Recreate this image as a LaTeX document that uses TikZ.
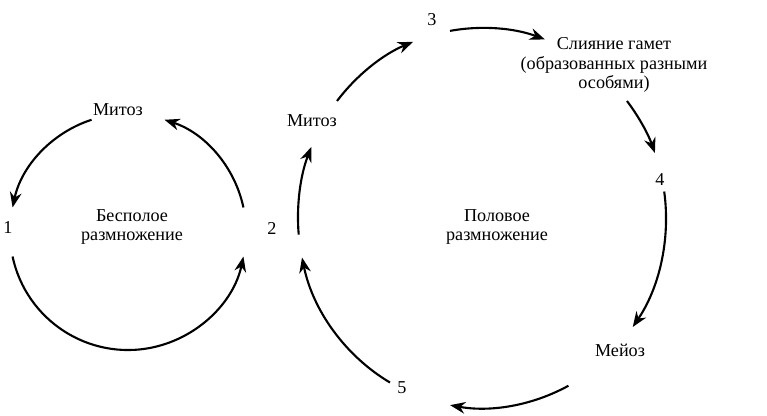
\documentclass[tikz,border=0pt]{standalone}
\usepackage{fontspec}
\setmainfont{Liberation Serif}
\usetikzlibrary{arrows.meta}
\begin{document}
\begin{tikzpicture}[x=0.03cm,y=0.03cm,
  cyc/.style={line width=1.8pt,-{Stealth[length=13pt,width=10pt]}},
  lab/.style={font=\fontsize{15.5pt}{17pt}\selectfont,align=center,inner sep=1pt}]
\useasboundingbox (0,0) rectangle (767,415);
\coordinate (L) at (128,183);
\coordinate (R) at (482,197);
% left circle
\draw[cyc] ([shift={(108:118)}]L) coordinate (l1) arc[start angle=108,end angle=168,radius=118];
\draw[cyc] ([shift={(12:118)}]L) coordinate (l2) arc[start angle=12,end angle=72,radius=118];
\draw[cyc] ([shift={(192:118)}]L) coordinate (l3) arc[start angle=192,end angle=348,radius=118];
% right circle
\tikzset{er/.style={x radius=184,y radius=190}}
\draw[cyc] ([shift={(185:184 and 190)}]R) coordinate (r1) arc[start angle=185,end angle=158,er];
\draw[cyc] ([shift={(142:184 and 190)}]R) coordinate (r2) arc[start angle=142,end angle=112,er];
\draw[cyc] ([shift={(100:184 and 190)}]R) coordinate (r3) arc[start angle=100,end angle=70,er];
\draw[cyc] ([shift={(38:184 and 190)}]R) coordinate (r4) arc[start angle=38,end angle=20,er];
\draw[cyc] ([shift={(8:184 and 190)}]R) coordinate (r5) arc[start angle=8,end angle=-35,er];
\draw[cyc] ([shift={(-62:184 and 190)}]R) coordinate (r6) arc[start angle=-62,end angle=-100,er];
\draw[cyc] ([shift={(-120:184 and 190)}]R) coordinate (r7) arc[start angle=-120,end angle=-168,er];
% labels
\node[lab] (n1) at (8,187) {1};
\node[lab] (bes) at (132,188) {Бесполое\\размножение};
\node[lab] (mit1) at (118,305) {Митоз};
\node[lab] (n2) at (272,187) {2};
\node[lab] (mit2) at (312,294) {Митоз};
\node[lab] (n3) at (432,395) {3};
\node[lab] (sl) at (614,350) {Слияние гамет\\(образованных разными\\особями)};
\node[lab] (n4) at (660,235) {4};
\node[lab] (pol) at (497,188) {Половое\\размножение};
\node[lab] (mei) at (620,65) {Мейоз};
\node[lab] (n5) at (402,27) {5};
\end{tikzpicture}
\end{document}
